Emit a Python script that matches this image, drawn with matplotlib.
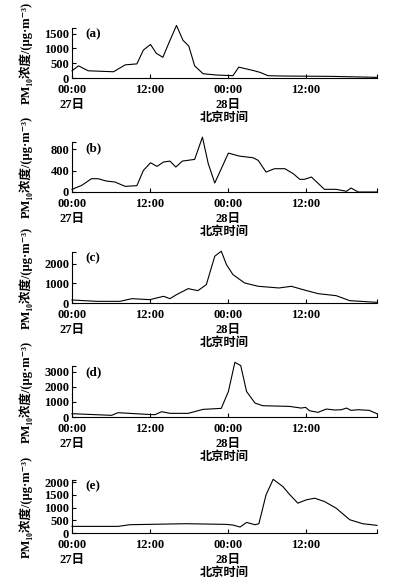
import matplotlib
matplotlib.use("Agg")
import matplotlib.pyplot as plt

plt.rcParams['font.family'] = ['Liberation Serif', 'Noto Sans CJK SC', 'DejaVu Sans']
plt.rcParams['font.weight'] = 'bold'

# hours since 00:00 on the 27th, PM10 concentration (ug/m3)
hours_a = [0, 1, 2.5, 6.4, 8.2, 10, 11, 12.1, 13, 14, 15, 16.1, 17.1, 18, 18.9, 20.2,
           22.3, 24.8, 25.7, 27.9, 29, 30.2, 32.5, 40, 47]
pm_a = [244, 411, 244, 211, 444, 477, 944, 1133, 833, 700, 1221, 1776, 1277, 1077, 411, 144,
        100, 78, 367, 255, 189, 78, 67, 55, 22]

hours_b = [0, 1.5, 3, 4, 5.3, 6.6, 8.2, 10, 11, 12.1, 13.1, 14.1, 15.1, 16, 17, 18.9, 20.1,
           21, 22, 24.1, 25.8, 27.9, 28.7, 29.9, 31.2, 32.8, 34.1, 35.1, 35.8, 36.9, 38.9,
           40.7, 42.3, 43, 44.1, 47]
pm_b = [50, 125, 250, 250, 206, 188, 106, 119, 406, 550, 481, 563, 581, 469, 581, 613, 1031,
        531, 169, 731, 675, 644, 594, 375, 438, 438, 344, 238, 238, 281, 50,
        50, 13, 75, 0, 0]

hours_c = [0, 3.8, 7.4, 9.2, 12, 14.1, 15.1, 16.1, 17.9, 19.4, 20.7, 22, 23, 23.8, 24.8,
           26.6, 28.7, 31.9, 33.8, 35.6, 37.9, 40.7, 42.8, 47]
pm_c = [154, 85, 85, 222, 171, 342, 222, 427, 735, 632, 940, 2394, 2650, 1966, 1453,
        1026, 855, 769, 855, 684, 479, 376, 120, 34]

hours_d = [0, 6.1, 7.1, 11.5, 12.8, 13.8, 15.1, 17.9, 20.2, 23, 24.1, 25.1, 26, 26.9, 28.2,
           29.4, 33.5, 35.3, 36, 36.6, 37.9, 39.2, 40.5, 41.5, 42.3, 43, 44.1, 45.8, 47]
pm_d = [219, 110, 285, 175, 153, 350, 241, 241, 504, 570, 1686, 3614, 3395, 1686, 920,
        745, 701, 591, 635, 416, 307, 526, 460, 482, 591, 438, 482, 438, 219]

hours_e = [0, 7.1, 8.9, 14.6, 17.6, 23.8, 24.8, 25.9, 26.9, 28.2, 28.8, 29.9, 31, 32.5,
           33.5, 34.8, 36.1, 37.4, 38.9, 40.7, 42.8, 44.8, 47]
pm_e = [261, 261, 327, 353, 366, 340, 314, 235, 418, 327, 366, 1503, 2117, 1830,
        1529, 1176, 1307, 1372, 1242, 980, 523, 366, 301]

panels = ['(a)', '(b)', '(c)', '(d)', '(e)']
series = [(hours_a, pm_a), (hours_b, pm_b), (hours_c, pm_c), (hours_d, pm_d), (hours_e, pm_e)]
yticks = [[0, 500, 1000, 1500], [0, 400, 800], [0, 1000, 2000],
          [0, 1000, 2000, 3000], [0, 500, 1000, 1500, 2000]]
ytops = [1690, 940, 2610, 3370, 2090]
xtick_pos = [0, 12, 24, 36, 47]
xtick_labels = ['00:00\n27日', '12:00', '00:00\n28日', '12:00', '']
ylabel = 'PM₁₀浓度/(μg·m⁻³)'

W, H = 394, 578
fig = plt.figure(figsize=(W / 100, H / 100), dpi=100)

# axes boxes in pixels: (bottom y, top y)
boxes = [(78, 28), (192, 142), (303, 252), (417, 366), (533, 480)]
left_px, right_px = 72, 377

for i in range(5):
    yb, yt = boxes[i]
    ax = fig.add_axes([left_px / W, 1 - yb / H, (right_px - left_px) / W, (yb - yt) / H])
    x, y = series[i]
    ax.plot(x, y, color='black', lw=0.8, clip_on=False)
    ax.set_xlim(0, 47)
    ax.set_ylim(0, ytops[i])
    ax.set_xticks(xtick_pos)
    ax.set_xticklabels(xtick_labels, fontsize=9, fontweight='bold', linespacing=1.3)
    ax.set_yticks(yticks[i] + [ytops[i]])
    ax.set_yticklabels([str(v) for v in yticks[i]] + [''], fontsize=9, fontweight='bold')
    ax.tick_params(direction='in', length=3, width=0.8)
    ax.tick_params(axis='x', pad=4.5)
    ax.tick_params(axis='y', pad=2)
    ax.spines['top'].set_visible(False)
    ax.spines['right'].set_visible(False)
    ax.spines['left'].set_linewidth(0.8)
    ax.spines['bottom'].set_linewidth(0.8)
    ax.set_ylabel(ylabel, fontsize=9, fontweight='bold')
    ax.yaxis.set_label_coords(-39 / (right_px - left_px), 0.5)
    ax.set_xlabel('北京时间', fontsize=8.8, fontweight='bold')
    ax.xaxis.set_label_coords(0.5, -34 / (yb - yt))
    ax.xaxis.label.set_verticalalignment('top')
    ax.text(0.045, 0.88, panels[i], transform=ax.transAxes, fontsize=9.5,
            fontweight='bold', va='center', ha='left')

fig.savefig('out.png', dpi=100)
